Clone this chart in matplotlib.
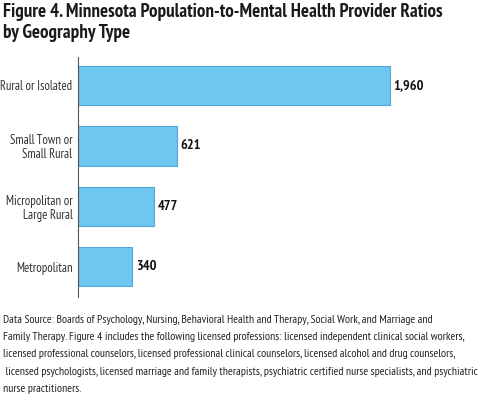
import matplotlib
matplotlib.use("Agg")
import matplotlib.pyplot as plt

# --- data ---
categories = ["Rural or Isolated", "Small Town or\nSmall Rural", "Micropolitan or\nLarge Rural", "Metropolitan"]
ratios = [1960, 621, 477, 340]
value_labels = ["1,960", "621", "477", "340"]

title = "Figure 4. Minnesota Population-to-Mental Health Provider Ratios\nby Geography Type"
note = ("Data Source: Boards of Psychology, Nursing, Behavioral Health and Therapy, Social Work, and Marriage and\n"
        "Family Therapy. Figure 4 includes the following licensed professions: licensed independent clinical social workers,\n"
        "licensed professional counselors, licensed professional clinical counselors, licensed alcohol and drug counselors,\n"
        " licensed psychologists, licensed marriage and family therapists, psychiatric certified nurse specialists, and psychiatric\n"
        "nurse practitioners.")

# condensed face, falls back if missing
plt.rcParams["font.family"] = ["PT Sans Narrow", "Roboto Condensed", "Liberation Sans Narrow", "DejaVu Sans"]

W, H = 490, 419
fig = plt.figure(figsize=(W / 100, H / 100), dpi=100)

# --- axes placed in pixel coords ---
x0, x1 = 78, 490
y_top, y_bot = 57, 297
ax = fig.add_axes([x0 / W, 1 - y_bot / H, (x1 - x0) / W, (y_bot - y_top) / H])

pos = list(range(len(categories)))
ax.barh(pos, ratios, height=0.65, color="#6ec7f0", edgecolor="#4fa8d8", linewidth=0.8)
ax.set_xlim(0, 412 / 0.1592)
ax.set_ylim(3.5, -0.47)

for p, v, lab in zip(pos, ratios, value_labels):
    ax.text(v + 22, p, lab, va="center", ha="left", fontsize=10.3, fontweight="bold", color="#111111")

ax.set_yticks(pos)
ax.set_yticklabels(categories, fontsize=9.1, color="#333333", ha="right", linespacing=1.1)
ax.tick_params(axis="y", length=0, pad=4)
ax.set_xticks([])
for s in ["top", "right", "bottom"]:
    ax.spines[s].set_visible(False)
ax.spines["left"].set_color("#555555")
ax.spines["left"].set_linewidth(0.8)

# --- title and note ---
fig.text(3 / W, 1 - 3 / H, title, ha="left", va="top", fontsize=13.7, fontweight="bold",
         color="#1a1a1a", linespacing=1.2)
fig.text(3 / W, 1 - 315 / H, note, ha="left", va="top", fontsize=8.5, color="#222222", linespacing=1.9)

plt.savefig("out.png", dpi=100)
